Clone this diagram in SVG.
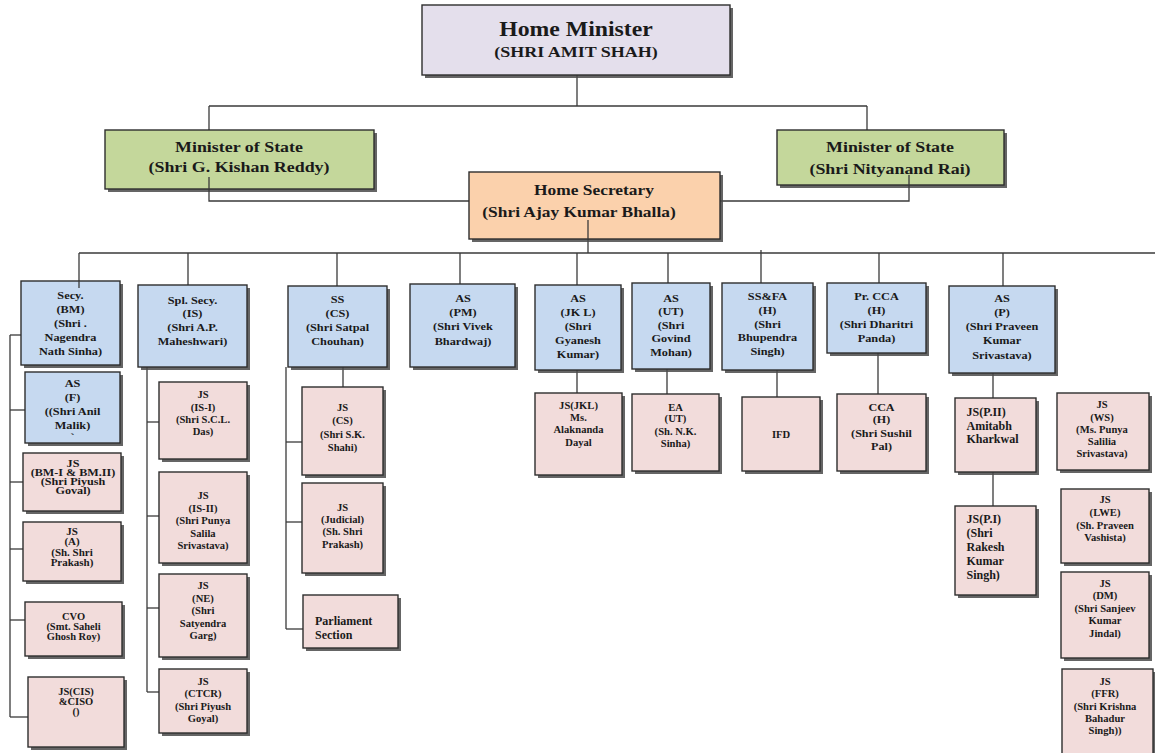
<svg xmlns="http://www.w3.org/2000/svg" width="1155" height="753" viewBox="0 0 1155 753">
<style>
.sh{fill:#4a4a4a;opacity:0.85}
.bx{stroke:#2e2e2e;stroke-width:1.4}
.hm{fill:#e4dfec}.ms{fill:#c4d79b}.hs{fill:#fbd1ac}.bl{fill:#c6d9f0}.pk{fill:#f2dcdb}
text{font-family:"Liberation Serif","Times New Roman",serif;font-weight:bold;fill:#1a1a1a}
.c{text-anchor:middle}
.l{text-anchor:start}
.t1{font-size:22px}.t2{font-size:15px}.t3{font-size:14px}.t4{font-size:15px}
.tb{font-size:11px}.tp{font-size:10px}.tq{font-size:12px}
#con line,#con polyline{stroke:#3a3a3a;stroke-width:1.3;fill:none}
</style>
<rect width="1155" height="753" fill="#ffffff"/>
<g id="con">
<line x1="577" y1="75" x2="577" y2="106"/>
<line x1="209" y1="106" x2="867" y2="106"/>
<line x1="209" y1="106" x2="209" y2="130"/>
<line x1="867" y1="106" x2="867" y2="130"/>
<line x1="588" y1="239" x2="588" y2="253"/>
<line x1="79" y1="253" x2="1155" y2="253"/>
<line x1="79" y1="253" x2="79" y2="281"/>
<line x1="188" y1="253" x2="188" y2="285"/>
<line x1="337" y1="253" x2="337" y2="286"/>
<line x1="460" y1="253" x2="460" y2="284"/>
<line x1="577" y1="253" x2="577" y2="285"/>
<line x1="668" y1="253" x2="668" y2="283"/>
<line x1="761" y1="250" x2="761" y2="283"/>
<line x1="879" y1="253" x2="879" y2="283"/>
<line x1="1003" y1="253" x2="1003" y2="286"/>
<line x1="10" y1="335" x2="10" y2="717"/>
<line x1="10" y1="335" x2="21" y2="335"/>
<line x1="10" y1="410" x2="25" y2="410"/>
<line x1="10" y1="482" x2="23" y2="482"/>
<line x1="10" y1="549" x2="23" y2="549"/>
<line x1="10" y1="620" x2="25" y2="620"/>
<line x1="10" y1="717" x2="28" y2="717"/>
<line x1="147" y1="367" x2="147" y2="692"/>
<line x1="147" y1="422" x2="159" y2="422"/>
<line x1="147" y1="516" x2="159" y2="516"/>
<line x1="147" y1="608" x2="159" y2="608"/>
<line x1="147" y1="692" x2="159" y2="692"/>
<line x1="343" y1="367" x2="343" y2="387"/>
<line x1="286" y1="367" x2="286" y2="629"/>
<line x1="286" y1="442" x2="308" y2="442"/>
<line x1="286" y1="522" x2="302" y2="522"/>
<line x1="286" y1="629" x2="303" y2="629"/>
<line x1="577" y1="370" x2="577" y2="393"/>
<line x1="667" y1="369" x2="667" y2="394"/>
<line x1="777" y1="370" x2="777" y2="397"/>
<line x1="878" y1="353" x2="878" y2="394"/>
<line x1="993" y1="373" x2="993" y2="398"/>
<line x1="993" y1="472" x2="993" y2="506"/>
</g>
<g id="hm">
<rect class="sh" x="425" y="8" width="308" height="70"/>
<rect class="bx hm" x="422" y="5" width="308" height="70"/>
<text class="c t1" transform="translate(576 0) scale(1.08 1)"><tspan x="0" y="36">Home Minister</tspan></text>
<text class="c t2" transform="translate(576 0) scale(1.2 1)"><tspan x="0" y="57">(SHRI AMIT SHAH)</tspan></text>
</g>
<g id="mos1">
<rect class="sh" x="108" y="133" width="269" height="59"/>
<rect class="bx ms" x="105" y="130" width="269" height="59"/>
<text class="c t3" transform="translate(239 0) scale(1.28 1)"><tspan x="0" y="152">Minister of State</tspan><tspan x="0" y="172">(Shri G. Kishan Reddy)</tspan></text>
</g>
<g id="mos2">
<rect class="sh" x="780" y="133" width="227" height="55"/>
<rect class="bx ms" x="777" y="130" width="227" height="55"/>
<text class="c t3" transform="translate(890 0) scale(1.28 1)"><tspan x="0" y="152">Minister of State</tspan><tspan x="0" y="174">(Shri Nityanand Rai)</tspan></text>
</g>
<g id="con2">
<polyline points="209,177 209,201 469,201" style="stroke:#3a3a3a;stroke-width:1.3;fill:none"/>
<polyline points="909,175 909,201 720,201" style="stroke:#3a3a3a;stroke-width:1.3;fill:none"/>
</g>
<g id="hsec">
<rect class="sh" x="472" y="175" width="251" height="67"/>
<rect class="bx hs" x="469" y="172" width="251" height="67"/>
<text class="c t4" transform="translate(594 0) scale(1.16 1)"><tspan x="0" y="195">Home Secretary</tspan></text>
<text class="c t4" transform="translate(579 0) scale(1.16 1)"><tspan x="0" y="217">(Shri Ajay Kumar Bhalla)</tspan></text>
<line x1="588" y1="220" x2="588" y2="239" stroke="#3a3a3a" stroke-width="1.3"/>
</g>
<g id="secybm">
<rect class="sh" x="24" y="284" width="99" height="84"/>
<rect class="bx bl" x="21" y="281" width="99" height="84"/>
<line x1="79" y1="281" x2="79" y2="288" stroke="#3a3a3a" stroke-width="1.3"/>
<text class="c tb" transform="translate(70.5 0) scale(1.12 1)"><tspan x="0" y="299">Secy.</tspan><tspan x="0" y="313">(BM)</tspan><tspan x="0" y="327">(Shri .</tspan><tspan x="0" y="341">Nagendra</tspan><tspan x="0" y="355">Nath Sinha)</tspan></text>
</g>
<g id="asf">
<rect class="sh" x="28" y="375" width="95" height="71"/>
<rect class="bx bl" x="25" y="372" width="95" height="71"/>
<text class="c tb" transform="translate(72.5 0) scale(1.12 1)"><tspan x="0" y="387">AS</tspan><tspan x="0" y="401">(F)</tspan><tspan x="0" y="415">((Shri Anil</tspan><tspan x="0" y="429">Malik)</tspan><tspan x="0" y="441">`</tspan></text>
</g>
<g id="jsbm">
<rect class="sh" x="26" y="456" width="98" height="58"/>
<rect class="bx pk" x="23" y="453" width="98" height="58"/>
<text class="c" style="font-size:9.5px" transform="translate(73 0) scale(1.28 1)"><tspan x="0" y="467.5">JS</tspan><tspan x="0" y="476.5">(BM-I &amp; BM.II)</tspan><tspan x="0" y="485.5">(Shri Piyush</tspan><tspan x="0" y="494.5">Goval)</tspan></text>
</g>
<g id="jsa">
<rect class="sh" x="26" y="525" width="98" height="59"/>
<rect class="bx pk" x="23" y="522" width="98" height="59"/>
<text class="c tp" transform="translate(72 0) scale(1.1 1)"><tspan x="0" y="535">JS</tspan><tspan x="0" y="545.5">(A)</tspan><tspan x="0" y="556">(Sh. Shri</tspan><tspan x="0" y="566.5">Prakash)</tspan></text>
</g>
<g id="cvo">
<rect class="sh" x="28" y="605" width="97" height="54"/>
<rect class="bx pk" x="25" y="602" width="97" height="54"/>
<text class="c tp" transform="translate(73.5 0) scale(1.05 1)"><tspan x="0" y="620">CVO</tspan><tspan x="0" y="630">(Smt. Saheli</tspan><tspan x="0" y="640">Ghosh Roy)</tspan></text>
</g>
<g id="jscis">
<rect class="sh" x="31" y="680" width="96" height="70"/>
<rect class="bx pk" x="28" y="677" width="96" height="70"/>
<text class="c tp" transform="translate(76 0) scale(1.05 1)"><tspan x="0" y="695">JS(CIS)</tspan><tspan x="0" y="705">&amp;CISO</tspan><tspan x="0" y="715">()</tspan></text>
</g>
<g id="splsecy">
<rect class="sh" x="141" y="288" width="109" height="82"/>
<rect class="bx bl" x="138" y="285" width="109" height="82"/>
<text class="c tb" transform="translate(192.5 0) scale(1.12 1)"><tspan x="0" y="304">Spl. Secy.</tspan><tspan x="0" y="317.5">(IS)</tspan><tspan x="0" y="331">(Shri A.P.</tspan><tspan x="0" y="345">Maheshwari)</tspan></text>
</g>
<g id="isi">
<rect class="sh" x="162" y="385" width="88" height="77"/>
<rect class="bx pk" x="159" y="382" width="88" height="77"/>
<text class="c tp" transform="translate(203 0) scale(1.06 1)"><tspan x="0" y="398.5">JS</tspan><tspan x="0" y="411">(IS-I)</tspan><tspan x="0" y="423">(Shri S.C.L.</tspan><tspan x="0" y="435">Das)</tspan></text>
</g>
<g id="isii">
<rect class="sh" x="162" y="475" width="88" height="91"/>
<rect class="bx pk" x="159" y="472" width="88" height="91"/>
<text class="c tp" transform="translate(203 0) scale(1.06 1)"><tspan x="0" y="499.5">JS</tspan><tspan x="0" y="512">(IS-II)</tspan><tspan x="0" y="524.5">(Shri Punya</tspan><tspan x="0" y="537">Salila</tspan><tspan x="0" y="549.5">Srivastava)</tspan></text>
</g>
<g id="ne">
<rect class="sh" x="162" y="577" width="88" height="83"/>
<rect class="bx pk" x="159" y="574" width="88" height="83"/>
<text class="c tp" transform="translate(203 0) scale(1.06 1)"><tspan x="0" y="589.5">JS</tspan><tspan x="0" y="602">(NE)</tspan><tspan x="0" y="614.5">(Shri</tspan><tspan x="0" y="627">Satyendra</tspan><tspan x="0" y="639">Garg)</tspan></text>
</g>
<g id="ctcr">
<rect class="sh" x="162" y="672" width="88" height="64"/>
<rect class="bx pk" x="159" y="669" width="88" height="64"/>
<text class="c tp" transform="translate(203 0) scale(1.06 1)"><tspan x="0" y="685">JS</tspan><tspan x="0" y="697.5">(CTCR)</tspan><tspan x="0" y="710">(Shri Piyush</tspan><tspan x="0" y="722.5">Goyal)</tspan></text>
</g>
<g id="ss">
<rect class="sh" x="291" y="289" width="99" height="81"/>
<rect class="bx bl" x="288" y="286" width="99" height="81"/>
<text class="c tb" transform="translate(337.5 0) scale(1.12 1)"><tspan x="0" y="303">SS</tspan><tspan x="0" y="317.5">(CS)</tspan><tspan x="0" y="331.5">(Shri Satpal</tspan><tspan x="0" y="345.5">Chouhan)</tspan></text>
</g>
<g id="jscs">
<rect class="sh" x="305" y="390" width="81" height="88"/>
<rect class="bx pk" x="302" y="387" width="81" height="88"/>
<text class="c tp" transform="translate(342.5 0) scale(1.06 1)"><tspan x="0" y="411">JS</tspan><tspan x="0" y="424.5">(CS)</tspan><tspan x="0" y="438">(Shri S.K.</tspan><tspan x="0" y="451">Shahi)</tspan></text>
</g>
<g id="judicial">
<rect class="sh" x="305" y="486" width="81" height="90"/>
<rect class="bx pk" x="302" y="483" width="81" height="90"/>
<text class="c tp" transform="translate(342.5 0) scale(1.06 1)"><tspan x="0" y="511">JS</tspan><tspan x="0" y="523">(Judicial)</tspan><tspan x="0" y="535.5">(Sh. Shri</tspan><tspan x="0" y="548">Prakash)</tspan></text>
</g>
<g id="parl">
<rect class="sh" x="306" y="598" width="95" height="53"/>
<rect class="bx pk" x="303" y="595" width="95" height="53"/>
<text class="l tq"><tspan x="315" y="624.5">Parliament</tspan><tspan x="315" y="638.5">Section</tspan></text>
</g>
<g id="aspm">
<rect class="sh" x="413" y="287" width="105" height="83"/>
<rect class="bx bl" x="410" y="284" width="105" height="83"/>
<text class="c tb" transform="translate(463 0) scale(1.12 1)"><tspan x="0" y="302">AS</tspan><tspan x="0" y="316.5">(PM)</tspan><tspan x="0" y="330.5">(Shri Vivek</tspan><tspan x="0" y="345">Bhardwaj)</tspan></text>
</g>
<g id="asjk">
<rect class="sh" x="538" y="288" width="86" height="85"/>
<rect class="bx bl" x="535" y="285" width="86" height="85"/>
<text class="c tb" transform="translate(578 0) scale(1.12 1)"><tspan x="0" y="302">AS</tspan><tspan x="0" y="316.5">(JK L)</tspan><tspan x="0" y="330">(Shri</tspan><tspan x="0" y="344">Gyanesh</tspan><tspan x="0" y="358">Kumar)</tspan></text>
</g>
<g id="jsjkl">
<rect class="sh" x="538" y="396" width="87" height="82"/>
<rect class="bx pk" x="535" y="393" width="87" height="82"/>
<text class="c tp" transform="translate(578.5 0) scale(1.06 1)"><tspan x="0" y="409.5">JS(JKL)</tspan><tspan x="0" y="421.5">Ms.</tspan><tspan x="0" y="433.5">Alaknanda</tspan><tspan x="0" y="446">Dayal</tspan></text>
</g>
<g id="asut">
<rect class="sh" x="635" y="286" width="78" height="86"/>
<rect class="bx bl" x="632" y="283" width="78" height="86"/>
<text class="c tb" transform="translate(671 0) scale(1.12 1)"><tspan x="0" y="302">AS</tspan><tspan x="0" y="315">(UT)</tspan><tspan x="0" y="329">(Shri</tspan><tspan x="0" y="342.5">Govind</tspan><tspan x="0" y="356">Mohan)</tspan></text>
</g>
<g id="ea">
<rect class="sh" x="635" y="397" width="87" height="77"/>
<rect class="bx pk" x="632" y="394" width="87" height="77"/>
<text class="c tp" transform="translate(675.5 0) scale(1.06 1)"><tspan x="0" y="411">EA</tspan><tspan x="0" y="422.5">(UT)</tspan><tspan x="0" y="435.5">(Sh. N.K.</tspan><tspan x="0" y="447.5">Sinha)</tspan></text>
</g>
<g id="ssfa">
<rect class="sh" x="725" y="286" width="91" height="87"/>
<rect class="bx bl" x="722" y="283" width="91" height="87"/>
<text class="c tb" transform="translate(767.5 0) scale(1.12 1)"><tspan x="0" y="300">SS&amp;FA</tspan><tspan x="0" y="314">(H)</tspan><tspan x="0" y="328">(Shri</tspan><tspan x="0" y="341.5">Bhupendra</tspan><tspan x="0" y="355.5">Singh)</tspan></text>
</g>
<g id="ifd">
<rect class="sh" x="745" y="400" width="78" height="74"/>
<rect class="bx pk" x="742" y="397" width="78" height="74"/>
<text class="c tp" transform="translate(781 0) scale(1.06 1)"><tspan x="0" y="438">IFD</tspan></text>
</g>
<g id="prcca">
<rect class="sh" x="830" y="286" width="99" height="70"/>
<rect class="bx bl" x="827" y="283" width="99" height="70"/>
<text class="c tb" transform="translate(876.5 0) scale(1.12 1)"><tspan x="0" y="300.5">Pr. CCA</tspan><tspan x="0" y="314.5">(H)</tspan><tspan x="0" y="328">(Shri Dharitri</tspan><tspan x="0" y="342">Panda)</tspan></text>
</g>
<g id="cca">
<rect class="sh" x="840" y="397" width="89" height="77"/>
<rect class="bx pk" x="837" y="394" width="89" height="77"/>
<text class="c tb" transform="translate(881.5 0) scale(1.1 1)"><tspan x="0" y="411">CCA</tspan><tspan x="0" y="423.5">(H)</tspan><tspan x="0" y="437">(Shri Sushil</tspan><tspan x="0" y="450">Pal)</tspan></text>
</g>
<g id="asp">
<rect class="sh" x="952" y="289" width="106" height="87"/>
<rect class="bx bl" x="949" y="286" width="106" height="87"/>
<text class="c tb" transform="translate(1002 0) scale(1.12 1)"><tspan x="0" y="302">AS</tspan><tspan x="0" y="316">(P)</tspan><tspan x="0" y="330.5">(Shri Praveen</tspan><tspan x="0" y="344.5">Kumar</tspan><tspan x="0" y="359">Srivastava)</tspan></text>
</g>
<g id="jsp2">
<rect class="sh" x="958" y="401" width="81" height="74"/>
<rect class="bx pk" x="955" y="398" width="81" height="74"/>
<text class="l tq"><tspan x="966.5" y="416">JS(P.II)</tspan><tspan x="966.5" y="429.5">Amitabh</tspan><tspan x="966.5" y="443">Kharkwal</tspan></text>
</g>
<g id="jsp1">
<rect class="sh" x="958" y="509" width="81" height="89"/>
<rect class="bx pk" x="955" y="506" width="81" height="89"/>
<text class="l tq"><tspan x="966.5" y="522.5">JS(P.I)</tspan><tspan x="966.5" y="537">(Shri</tspan><tspan x="966.5" y="551">Rakesh</tspan><tspan x="966.5" y="565">Kumar</tspan><tspan x="966.5" y="579">Singh)</tspan></text>
</g>
<g id="jsws">
<rect class="sh" x="1060" y="396" width="92" height="77"/>
<rect class="bx pk" x="1057" y="393" width="92" height="77"/>
<text class="c tp" transform="translate(1102 0) scale(1.06 1)"><tspan x="0" y="408.5">JS</tspan><tspan x="0" y="421">(WS)</tspan><tspan x="0" y="433.5">(Ms. Punya</tspan><tspan x="0" y="445.5">Salilia</tspan><tspan x="0" y="457.5">Srivastava)</tspan></text>
</g>
<g id="jslwe">
<rect class="sh" x="1064" y="492" width="88" height="74"/>
<rect class="bx pk" x="1061" y="489" width="88" height="74"/>
<text class="c tp" transform="translate(1105 0) scale(1.06 1)"><tspan x="0" y="503.5">JS</tspan><tspan x="0" y="516">(LWE)</tspan><tspan x="0" y="529">(Sh. Praveen</tspan><tspan x="0" y="541.5">Vashista)</tspan></text>
</g>
<g id="jsdm">
<rect class="sh" x="1064" y="575" width="88" height="86"/>
<rect class="bx pk" x="1061" y="572" width="88" height="86"/>
<text class="c tp" transform="translate(1105 0) scale(1.06 1)"><tspan x="0" y="587">JS</tspan><tspan x="0" y="599">(DM)</tspan><tspan x="0" y="612">(Shri Sanjeev</tspan><tspan x="0" y="624.5">Kumar</tspan><tspan x="0" y="637">Jindal)</tspan></text>
</g>
<g id="jsffr">
<rect class="sh" x="1065" y="672" width="91" height="95"/>
<rect class="bx pk" x="1062" y="669" width="91" height="95"/>
<text class="c tp" transform="translate(1105 0) scale(1.06 1)"><tspan x="0" y="685">JS</tspan><tspan x="0" y="697.5">(FFR)</tspan><tspan x="0" y="710">(Shri Krishna</tspan><tspan x="0" y="722">Bahadur</tspan><tspan x="0" y="734">Singh))</tspan></text>
</g>
</svg>
